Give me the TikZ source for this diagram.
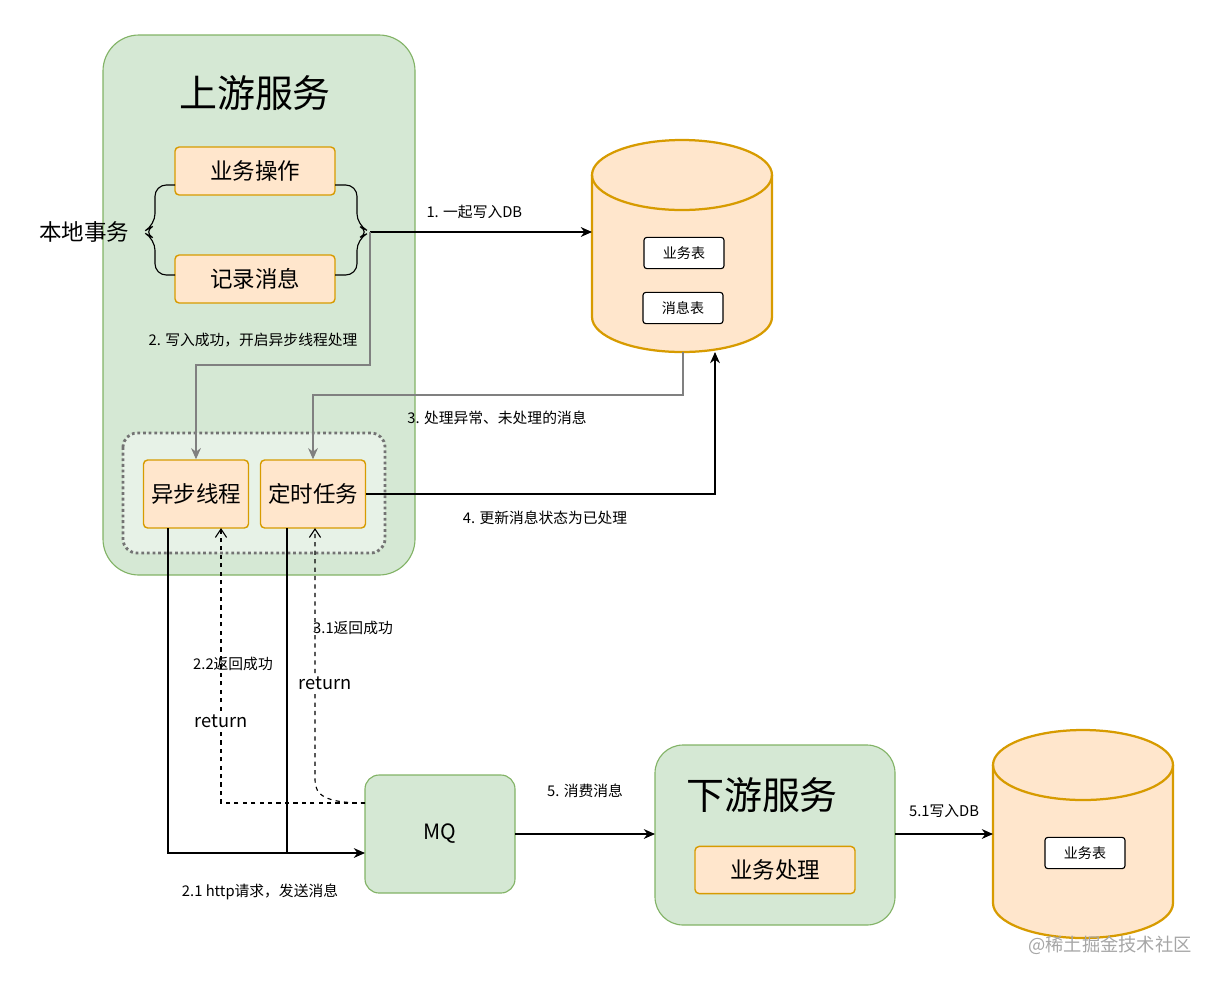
\documentclass[tikz,border=0pt]{standalone}
\usepackage{fontspec}
\setmainfont{Noto Sans CJK SC}
\usetikzlibrary{arrows.meta,decorations.pathreplacing}
\definecolor{grnfill}{HTML}{D5E8D4}
\definecolor{grnline}{HTML}{82B366}
\definecolor{orgfill}{HTML}{FFE6CC}
\definecolor{orgline}{HTML}{D79B00}
\tikzset{
  group/.style={draw=grnline, fill=grnfill, rounded corners=0.9cm, line width=0.8pt},
  task/.style={draw=orgline, fill=orgfill, rounded corners=3pt, line width=1pt, font=\fontsize{16}{16}\selectfont, inner sep=0pt},
  tbl/.style={draw, fill=white, rounded corners=2pt, line width=0.8pt, minimum width=2cm, minimum height=0.78cm, font=\fontsize{10}{10}\selectfont},
  lbl/.style={font=\fontsize{10.5}{10.5}\selectfont},
  flow/.style={-{Stealth[length=8pt,width=7pt]}, line width=0.8pt},
  back/.style={-{Straight Barb[length=6pt,width=8pt]}, dashed, line width=0.8pt},
}
\newcommand{\dbcyl}[3]{% left x, top y, bottom y; width 180
  \fill[orgfill] (#1,#2) -- (#1,#3) arc[start angle=180,end angle=360,x radius=90,y radius=-35] -- (#1+180,#2) -- cycle;
  \draw[orgline, line width=1.6pt, fill=orgfill] (#1+90,#2) ellipse[x radius=90,y radius=35];
  \draw[orgline, line width=1.6pt] (#1,#2) -- (#1,#3) arc[start angle=180,end angle=360,x radius=90,y radius=-35] -- (#1+180,#2);
}
\begin{document}
\begin{tikzpicture}[x=0.025cm,y=-0.025cm]
\useasboundingbox (0,0) rectangle (1216,982);
% upstream service
\draw[group] (103,35) rectangle (415,575);
\node (up) at (255,93) {\fontsize{27}{27}\selectfont 上游服务};
\node[task, minimum width=4cm, minimum height=1.2cm] (op) at (255,171) {业务操作};
\node[task, minimum width=4cm, minimum height=1.2cm] (rec) at (255,279) {记录消息};
\draw[line width=0.8pt, rounded corners=8pt] (175,185) -- (155,185) -- (155,225) -- (143,232) -- (155,239) -- (155,275) -- (175,275);
\draw[line width=0.8pt, rounded corners=8pt] (335,185) -- (357,185) -- (357,225) -- (370,232) -- (357,239) -- (357,275) -- (335,275);
\node[font=\fontsize{16}{16}\selectfont] (tx) at (84,232) {本地事务};
\coordinate (tip) at (370,232);
% async group
\draw[draw=gray!90!black, fill=white, fill opacity=0.45, dotted, line width=2pt, rounded corners=10pt] (123,433) rectangle (385,553);
\node[task, minimum width=2.625cm, minimum height=1.7cm] (async) at (196,494) {异步线程};
\node[task, minimum width=2.625cm, minimum height=1.7cm] (timer) at (313,494) {定时任务};
% message db
\dbcyl{592}{175}{317}
\coordinate (db1) at (592,232);
\coordinate (db1b) at (683,352);
\coordinate (db1u) at (715,352);
\node[tbl] (biz) at (684,253) {业务表};
\node[tbl] (msg) at (683,308) {消息表};
% MQ and downstream
\draw[group, rounded corners=10pt] (365,775) rectangle (515,893);
\node[font=\fontsize{15}{15}\selectfont] (mq) at (440,834) {MQ};
\draw[group, rounded corners=20pt] (655,745) rectangle (895,925);
\node (down) at (762,795) {\fontsize{27}{27}\selectfont 下游服务};
\node[task, minimum width=4cm, minimum height=1.18cm] (proc) at (775,870) {业务处理};
\dbcyl{993}{765}{903}
\node[tbl] (biz2) at (1085,853) {业务表};
% flows
\draw[flow] (tip) -- node[lbl, above=6pt, pos=0.47] {1. 一起写入DB} (db1);
\draw[flow, gray] (tip) |- (196,365) -- (async.north);
\node[lbl] at (253,340) {2. 写入成功，开启异步线程处理};
\draw[flow, gray] (db1b) |- (313,395) -- (timer.north);
\node[lbl] at (497,418) {3. 处理异常、未处理的消息};
\draw[flow] (timer.east) -| (db1u);
\node[lbl] at (545,518) {4. 更新消息状态为已处理};
\draw[line width=0.8pt] (168,528) |- (287,853);
\draw[line width=0.8pt] (287,528) -- (287,853);
\draw[flow] (287,853) -- (365,853);
\node[lbl] at (260,892) {2.1 http请求，发送消息};
\draw[back] (365,803) -| (221,528);
\draw[back] (365,803) .. controls (325,803) and (315,795) .. (315,780) -- (315,528);
\node[lbl] at (233,664) {2.2返回成功};
\node[font=\fontsize{13}{13}\selectfont, fill=white, inner sep=1pt] at (221,721) {return};
\node[lbl] at (353,628) {3.1返回成功};
\node[font=\fontsize{13}{13}\selectfont, fill=white, inner sep=1pt] at (325,683) {return};
\draw[flow] (515,834) -- node[lbl, above=22pt] {5. 消费消息} (655,834);
\draw[flow] (895,834) -- node[lbl, above=8pt] {5.1写入DB} (993,834);
\node[gray!70, font=\fontsize{13}{13}\selectfont] at (1110,945) {@稀土掘金技术社区};
\end{tikzpicture}
\end{document}
